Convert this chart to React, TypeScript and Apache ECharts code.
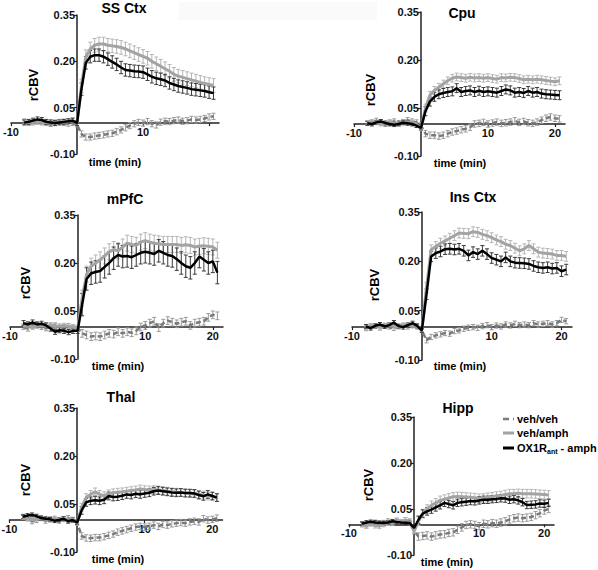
import React, { useEffect, useRef } from 'react';
import * as echarts from 'echarts';

// time points (min)
const TIMES = [-8, -7.33, -6.67, -6, -5.33, -4.67, -4, -3.33, -2.67, -2, -1.33, -0.67, 0, 0.67, 1.33, 2, 2.67, 3.33, 4, 4.67, 5.33, 6, 6.67, 7.33, 8, 8.67, 9.33, 10, 10.67, 11.33, 12, 12.67, 13.33, 14, 14.67, 15.33, 16, 16.67, 17.33, 18, 18.67, 19.33, 20, 20.67];

const SERIES_NAMES = ['veh/veh', 'veh/amph', 'OX1Rant - amph'];
const PANEL_TITLES = ['SS Ctx', 'Cpu', 'mPfC', 'Ins Ctx', 'Thal', 'Hipp'];
const Y_TICKS = [-0.1, 0.05, 0.2, 0.35];
const X_TICKS = [-10, 0, 10, 20];
const X_LABELS = [-10, 10, 20];
const X_LABELS_SS = [-10, 10];
const X_TITLE = 'time (min)';
const Y_TITLE = 'rCBV';
const X_MIN = -10;
const X_MAX = 21.5;
const Y_MIN = -0.1;
const Y_MAX = 0.35;

// SS Ctx
const SS_VEHVEH = [0.005, 0.0, 0.003, 0.005, 0.002, 0.0, -0.003, 0.002, 0.004, 0.0, -0.002, 0.0, -0.005, -0.035, -0.045, -0.045, -0.042, -0.04, -0.038, -0.035, -0.033, -0.028, -0.022, -0.015, -0.008, -0.002, 0.002, 0.0, 0.005, -0.002, -0.006, 0.003, 0.006, 0.005, 0.008, 0.01, 0.006, 0.008, 0.012, 0.01, 0.012, 0.015, 0.02, 0.022];
const SS_VEHAMPH = [0.005, 0.003, 0.002, 0.004, 0.003, 0.002, 0.003, 0.002, 0.004, 0.005, 0.006, 0.008, 0.0, 0.12, 0.215, 0.24, 0.252, 0.256, 0.256, 0.252, 0.25, 0.248, 0.245, 0.24, 0.234, 0.228, 0.222, 0.216, 0.21, 0.2, 0.192, 0.184, 0.176, 0.168, 0.158, 0.152, 0.148, 0.144, 0.14, 0.136, 0.132, 0.128, 0.125, 0.122];
const SS_OX1R = [0.002, 0.004, 0.008, 0.012, 0.01, 0.004, 0.002, 0.0, 0.002, 0.004, 0.006, 0.008, 0.0, 0.11, 0.195, 0.215, 0.22, 0.22, 0.215, 0.207, 0.198, 0.19, 0.18, 0.172, 0.17, 0.168, 0.167, 0.165, 0.158, 0.15, 0.145, 0.142, 0.138, 0.13, 0.125, 0.12, 0.117, 0.114, 0.11, 0.108, 0.106, 0.104, 0.1, 0.097];

// Cpu
const CPU_VEHVEH = [0.003, 0.006, 0.01, 0.005, 0.0, 0.005, 0.008, 0.003, 0.006, 0.012, 0.008, 0.005, -0.005, -0.03, -0.035, -0.035, -0.038, -0.035, -0.03, -0.025, -0.022, -0.018, -0.015, -0.01, 0.0, 0.002, 0.005, 0.0, 0.003, 0.006, 0.002, 0.004, 0.006, 0.01, 0.005, 0.008, 0.004, 0.002, 0.006, 0.012, 0.018, 0.022, 0.018, 0.016];
const CPU_VEHAMPH = [0.005, 0.008, 0.004, 0.0, 0.003, 0.006, 0.002, 0.0, 0.003, 0.005, 0.004, 0.0, -0.015, 0.05, 0.09, 0.105, 0.115, 0.125, 0.135, 0.143, 0.147, 0.145, 0.143, 0.146, 0.144, 0.145, 0.143, 0.145, 0.142, 0.14, 0.145, 0.144, 0.146, 0.145, 0.142, 0.138, 0.14, 0.138, 0.14, 0.138, 0.136, 0.134, 0.132, 0.135];
const CPU_OX1R = [0.002, 0.0, 0.005, 0.008, 0.003, 0.0, -0.002, 0.0, 0.004, 0.002, 0.0, -0.005, -0.012, 0.04, 0.07, 0.085, 0.093, 0.097, 0.1, 0.102, 0.112, 0.1, 0.103, 0.105, 0.1, 0.104, 0.1, 0.102, 0.1, 0.098, 0.103, 0.108, 0.105, 0.098, 0.1, 0.097, 0.103, 0.098, 0.1, 0.095, 0.093, 0.092, 0.091, 0.09];

// mPfC
const MPFC_VEHVEH = [0.0, -0.005, 0.003, 0.006, 0.0, -0.004, 0.002, 0.005, -0.002, 0.0, 0.003, -0.002, -0.005, -0.02, -0.025, -0.03, -0.028, -0.03, -0.025, -0.02, -0.022, -0.015, -0.02, -0.015, -0.018, -0.012, 0.0, 0.005, 0.012, 0.018, -0.002, 0.012, 0.02, 0.015, 0.01, 0.015, 0.018, 0.005, 0.012, 0.015, 0.018, 0.03, 0.038, 0.035];
const MPFC_VEHAMPH = [0.002, 0.004, 0.0, 0.003, 0.005, 0.002, 0.006, 0.003, 0.002, 0.004, 0.002, 0.0, -0.005, 0.09, 0.165, 0.19, 0.2, 0.21, 0.222, 0.235, 0.242, 0.238, 0.25, 0.262, 0.258, 0.255, 0.265, 0.27, 0.265, 0.262, 0.26, 0.258, 0.258, 0.258, 0.258, 0.255, 0.257, 0.255, 0.25, 0.252, 0.254, 0.252, 0.25, 0.24];
const MPFC_OX1R = [0.012, 0.008, 0.014, 0.008, 0.01, 0.005, -0.005, -0.015, -0.01, -0.012, -0.016, -0.012, -0.012, 0.07, 0.15, 0.168, 0.172, 0.175, 0.188, 0.2, 0.215, 0.225, 0.22, 0.222, 0.218, 0.225, 0.232, 0.235, 0.232, 0.228, 0.238, 0.232, 0.225, 0.222, 0.212, 0.2, 0.19, 0.185, 0.2, 0.22, 0.21, 0.2, 0.205, 0.17];

// Ins Ctx
const INS_VEHVEH = [-0.005, 0.005, 0.002, -0.003, 0.006, 0.0, -0.004, 0.002, 0.006, 0.0, 0.004, 0.0, -0.01, -0.04, -0.03, -0.025, -0.022, -0.018, -0.02, -0.012, -0.01, -0.005, -0.002, 0.0, -0.002, 0.003, 0.006, 0.0, 0.005, 0.002, 0.008, 0.005, 0.01, 0.006, 0.008, 0.006, 0.012, 0.008, 0.01, 0.012, 0.008, 0.012, 0.022, 0.018];
const INS_VEHAMPH = [0.0, 0.005, 0.003, 0.0, 0.004, 0.008, 0.003, 0.0, 0.006, 0.008, 0.004, 0.002, -0.008, 0.12, 0.235, 0.245, 0.255, 0.262, 0.27, 0.278, 0.286, 0.285, 0.284, 0.29, 0.288, 0.282, 0.278, 0.272, 0.265, 0.26, 0.252, 0.248, 0.24, 0.232, 0.238, 0.248, 0.238, 0.228, 0.225, 0.224, 0.222, 0.218, 0.218, 0.215];
const INS_OX1R = [0.002, -0.003, 0.004, 0.008, 0.002, 0.006, 0.014, 0.003, 0.0, 0.006, 0.012, 0.004, -0.01, 0.1, 0.215, 0.225, 0.23, 0.237, 0.238, 0.236, 0.238, 0.232, 0.218, 0.228, 0.222, 0.232, 0.222, 0.21, 0.205, 0.2, 0.212, 0.2, 0.196, 0.195, 0.194, 0.192, 0.186, 0.182, 0.18, 0.182, 0.178, 0.18, 0.17, 0.175];

// Thal
const THAL_VEHVEH = [0.01, 0.005, -0.004, 0.0, 0.006, -0.002, 0.002, 0.004, -0.002, 0.003, 0.006, 0.0, -0.008, -0.05, -0.056, -0.057, -0.055, -0.055, -0.052, -0.048, -0.044, -0.038, -0.034, -0.03, -0.026, -0.022, -0.02, -0.022, -0.02, -0.016, -0.02, -0.014, -0.016, -0.012, -0.01, -0.008, -0.01, -0.006, -0.004, -0.006, 0.004, 0.0, 0.002, 0.006];
const THAL_VEHAMPH = [0.008, 0.004, 0.0, 0.003, 0.006, 0.002, 0.0, 0.004, 0.002, 0.005, 0.0, 0.003, -0.01, 0.04, 0.07, 0.08, 0.088, 0.08, 0.076, 0.082, 0.085, 0.087, 0.088, 0.09, 0.092, 0.094, 0.097, 0.095, 0.094, 0.095, 0.094, 0.092, 0.09, 0.088, 0.087, 0.086, 0.085, 0.083, 0.082, 0.08, 0.078, 0.075, 0.074, 0.07];
const THAL_OX1R = [0.01, 0.014, 0.016, 0.012, 0.006, 0.004, 0.002, -0.002, 0.0, 0.004, -0.004, 0.0, -0.008, 0.03, 0.055, 0.06, 0.062, 0.06, 0.063, 0.075, 0.072, 0.073, 0.076, 0.08, 0.078, 0.082, 0.08, 0.083, 0.085, 0.09, 0.092, 0.09, 0.088, 0.086, 0.085, 0.086, 0.084, 0.084, 0.083, 0.078, 0.074, 0.08, 0.075, 0.07];

// Hipp
const HIPP_VEHVEH = [0.0, -0.004, 0.004, 0.006, 0.002, 0.005, 0.01, 0.004, 0.012, 0.008, 0.014, 0.01, -0.02, -0.04, -0.038, -0.036, -0.04, -0.036, -0.033, -0.032, -0.028, -0.026, -0.018, -0.01, -0.002, 0.0, -0.002, -0.006, 0.002, 0.0, 0.004, 0.002, 0.006, 0.01, 0.016, 0.02, 0.022, 0.02, 0.022, 0.024, 0.03, 0.036, 0.045, 0.05];
const HIPP_VEHAMPH = [0.0, -0.005, 0.002, -0.004, -0.006, 0.0, 0.004, 0.006, 0.012, 0.008, 0.014, 0.006, -0.022, 0.01, 0.035, 0.05, 0.062, 0.07, 0.078, 0.082, 0.086, 0.09, 0.091, 0.09, 0.089, 0.088, 0.087, 0.085, 0.086, 0.088, 0.09, 0.092, 0.094, 0.097, 0.1, 0.1, 0.101, 0.1, 0.1, 0.1, 0.099, 0.098, 0.097, 0.096];
const HIPP_OX1R = [0.002, 0.006, 0.008, 0.006, 0.005, 0.004, 0.006, 0.01, 0.008, 0.006, 0.005, 0.004, -0.012, 0.015, 0.035, 0.042, 0.048, 0.055, 0.062, 0.07, 0.066, 0.062, 0.07, 0.072, 0.074, 0.076, 0.075, 0.078, 0.08, 0.08, 0.082, 0.083, 0.085, 0.084, 0.08, 0.082, 0.078, 0.072, 0.063, 0.064, 0.065, 0.068, 0.067, 0.07];

// SEM [baseline, post-injection] for [veh/veh, veh/amph, OX1Rant - amph]
const SS_SEM = [[0.008, 0.01], [0.008, 0.022], [0.008, 0.02]];
const CPU_SEM = [[0.008, 0.01], [0.006, 0.012], [0.006, 0.014]];
const MPFC_SEM = [[0.008, 0.012], [0.008, 0.025], [0.008, 0.035]];
const INS_SEM = [[0.006, 0.008], [0.006, 0.015], [0.006, 0.016]];
const THAL_SEM = [[0.008, 0.01], [0.006, 0.012], [0.006, 0.012]];
const HIPP_SEM = [[0.008, 0.012], [0.008, 0.014], [0.006, 0.012]];

const PANEL_DATA = [
  [SS_VEHVEH, SS_VEHAMPH, SS_OX1R],
  [CPU_VEHVEH, CPU_VEHAMPH, CPU_OX1R],
  [MPFC_VEHVEH, MPFC_VEHAMPH, MPFC_OX1R],
  [INS_VEHVEH, INS_VEHAMPH, INS_OX1R],
  [THAL_VEHVEH, THAL_VEHAMPH, THAL_OX1R],
  [HIPP_VEHVEH, HIPP_VEHAMPH, HIPP_OX1R],
];
const PANEL_SEM = [SS_SEM, CPU_SEM, MPFC_SEM, INS_SEM, THAL_SEM, HIPP_SEM];

// layout (pixels)
const GRIDS = [
  { left: 11, top: 15, width: 208, height: 139 },
  { left: 354, top: 12, width: 211, height: 144 },
  { left: 10, top: 215, width: 213, height: 144 },
  { left: 352, top: 212, width: 220, height: 148 },
  { left: 9.5, top: 408, width: 213, height: 144 },
  { left: 349, top: 417, width: 205, height: 138 },
];
const TITLE_POS = [[124, 8], [462, 13], [125, 199], [473, 197], [121, 397], [458, 408]];
const XNAME_POS = [[115, 162], [460, 163], [118, 366], [460, 366], [118, 559], [447, 562]];
const YNAME_POS = [[33, 85], [370, 90], [25, 283], [374, 285], [25, 480], [368, 485]];

const FONT = 'Liberation Sans, Arial, Helvetica, sans-serif';
const LINE_COLORS = ['#7a7a7a', '#a3a3a3', '#000000'];
const ERR_COLORS = ['#9a9a9a', '#b5b5b5', '#3a3a3a'];
const LINE_WIDTHS = [2.5, 3, 2.5];

function buildOption() {
  const grid: any[] = [];
  const xAxis: any[] = [];
  const yAxis: any[] = [];
  const series: any[] = [];
  const graphic: any[] = [];

  graphic.push({ type: 'rect', shape: { x: 179, y: 2, width: 198, height: 18 }, style: { fill: '#fafafa' }, z: -10 });

  GRIDS.forEach((g, p) => {
    grid.push({ ...g, containLabel: false, outerBoundsMode: 'none' });
    // place the axes where the other axis is zero
    const yOffset = -((0 - X_MIN) / (X_MAX - X_MIN)) * g.width;
    const xOffset = -((0 - Y_MIN) / (Y_MAX - Y_MIN)) * g.height;
    xAxis.push({
      type: 'value', gridIndex: p, min: X_MIN, max: X_MAX, position: 'bottom', offset: xOffset,
      splitLine: { show: false },
      axisLine: { onZero: false, lineStyle: { color: '#222', width: 1.5 } },
      axisTick: { show: true, length: 3, lineStyle: { color: '#222', width: 1.2 }, customValues: X_TICKS },
      axisLabel: {
        customValues: p === 0 ? X_LABELS_SS : X_LABELS,
        color: '#111', fontFamily: FONT, fontWeight: 'bold', fontSize: 11, margin: 3,
      },
    });
    yAxis.push({
      type: 'value', gridIndex: p, min: Y_MIN, max: Y_MAX, position: 'left', offset: yOffset,
      splitLine: { show: false },
      axisLine: { onZero: false, lineStyle: { color: '#222', width: 1.5 } },
      axisTick: { show: true, length: 3, lineStyle: { color: '#222', width: 1.2 }, customValues: Y_TICKS },
      axisLabel: {
        customValues: Y_TICKS,
        formatter: (v: number) => v.toFixed(2),
        color: '#111', fontFamily: FONT, fontWeight: 'bold', fontSize: 11, margin: 2,
      },
    });

    PANEL_DATA[p].forEach((vals, s) => {
      const sem = PANEL_SEM[p][s];
      const errData = TIMES.map((t, i) => [t, vals[i], t <= 0 ? sem[0] : sem[1]]);
      const col = ERR_COLORS[s];
      series.push({
        type: 'custom', name: SERIES_NAMES[s] + ' SEM', xAxisIndex: p, yAxisIndex: p,
        coordinateSystem: 'cartesian2d', z: 1 + s,
        encode: { x: 0, y: 1 },
        renderItem: (params: any, api: any) => {
          const x = api.value(0), y = api.value(1), e = api.value(2);
          const top = api.coord([x, y + e]);
          const bot = api.coord([x, y - e]);
          const hw = 2;
          const st = { stroke: col, lineWidth: 1 };
          return {
            type: 'group',
            children: [
              { type: 'line', shape: { x1: top[0], y1: top[1], x2: bot[0], y2: bot[1] }, style: st },
              { type: 'line', shape: { x1: top[0] - hw, y1: top[1], x2: top[0] + hw, y2: top[1] }, style: st },
              { type: 'line', shape: { x1: bot[0] - hw, y1: bot[1], x2: bot[0] + hw, y2: bot[1] }, style: st },
            ],
          };
        },
        data: errData,
      });
    });
    PANEL_DATA[p].forEach((vals, s) => {
      series.push({
        type: 'line', name: SERIES_NAMES[s], xAxisIndex: p, yAxisIndex: p,
        showSymbol: false, symbol: 'none', z: 10 + s,
        lineStyle: { color: LINE_COLORS[s], width: LINE_WIDTHS[s], type: s === 0 ? [5, 3] : 'solid' },
        data: TIMES.map((t, i) => [t, vals[i]]),
      });
    });

    graphic.push({
      type: 'text', x: TITLE_POS[p][0], y: TITLE_POS[p][1],
      style: { text: PANEL_TITLES[p], fontFamily: FONT, fontWeight: 'bold', fontSize: 14, fill: '#000', align: 'center', verticalAlign: 'middle' },
    });
    graphic.push({
      type: 'text', x: XNAME_POS[p][0], y: XNAME_POS[p][1],
      style: { text: X_TITLE, fontFamily: FONT, fontWeight: 'bold', fontSize: 11, fill: '#000', align: 'center', verticalAlign: 'middle' },
    });
    graphic.push({
      type: 'text', x: YNAME_POS[p][0], y: YNAME_POS[p][1], rotation: Math.PI / 2,
      style: { text: Y_TITLE, fontFamily: FONT, fontWeight: 'bold', fontSize: 13, fill: '#000', align: 'center', verticalAlign: 'middle' },
    });
  });

  // legend (drawn in Hipp panel)
  const LX1 = 503, LX2 = 514, TX = 517;
  const rows = [419, 433, 448];
  rows.forEach((y, s) => {
    graphic.push({
      type: 'line', shape: { x1: LX1, y1: y, x2: LX2, y2: y },
      style: { stroke: LINE_COLORS[s], lineWidth: s === 0 ? 2.5 : 3, lineDash: s === 0 ? [6, 4] : null },
    });
  });
  const tStyle = { fontFamily: FONT, fontWeight: 'bold', fontSize: 11, fill: '#000', align: 'left', verticalAlign: 'middle' };
  graphic.push({ type: 'text', x: TX, y: rows[0], style: { ...tStyle, text: SERIES_NAMES[0] } });
  graphic.push({ type: 'text', x: TX, y: rows[1], style: { ...tStyle, text: SERIES_NAMES[1] } });
  graphic.push({ type: 'text', x: TX, y: rows[2], style: { ...tStyle, text: 'OX1R' } });
  graphic.push({ type: 'text', x: TX + 30, y: rows[2] + 3, style: { ...tStyle, fontSize: 7, text: 'ant' } });
  graphic.push({ type: 'text', x: TX + 40.5, y: rows[2], style: { ...tStyle, text: ' - amph' } });

  return { animation: false, backgroundColor: '#ffffff', grid, xAxis, yAxis, series, graphic };
}

export default function App() {
  const ref = useRef<HTMLDivElement>(null);
  useEffect(() => {
    document.body.style.margin = '0';
    if (!ref.current) return;
    const chart = echarts.init(ref.current, undefined, { renderer: 'svg' });
    chart.setOption(buildOption() as any);
    return () => chart.dispose();
  }, []);
  return <div ref={ref} style={{ width: 598, height: 570 }} />;
}
